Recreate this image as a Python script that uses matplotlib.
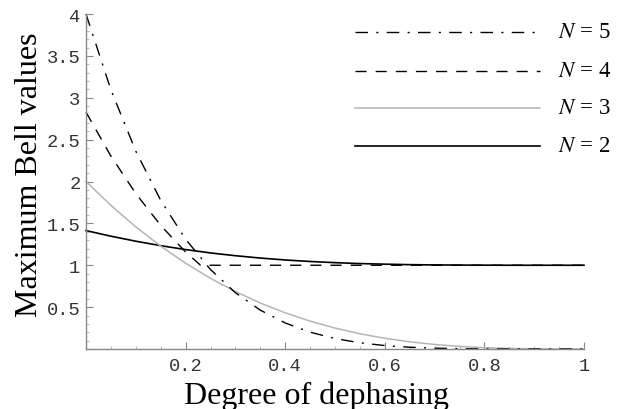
import matplotlib.pyplot as plt
from matplotlib.ticker import MultipleLocator, FuncFormatter

plt.rcParams["mathtext.fontset"] = "stix"

# degree of dephasing (x) and values
dephasing = [0.0, 0.05, 0.1, 0.15, 0.2, 0.25, 0.3, 0.35, 0.4, 0.45, 0.5,
             0.55, 0.6, 0.65, 0.7, 0.75, 0.8, 0.85, 0.9, 0.95, 1.0]

bell_n2 = [1.414, 1.347, 1.287, 1.234, 1.187, 1.147, 1.114, 1.086, 1.063, 1.045, 1.031,
           1.020, 1.013, 1.007, 1.004, 1.002, 1.001, 1.0, 1.0, 1.0, 1.0]
bell_n3 = [2.0, 1.715, 1.458, 1.228, 1.024, 0.844, 0.686, 0.549, 0.432, 0.333, 0.25,
           0.182, 0.128, 0.086, 0.054, 0.031, 0.016, 0.007, 0.002, 0.0, 0.0]
bell_n5 = [4.0, 3.095, 2.362, 1.775, 1.311, 0.949, 0.672, 0.464, 0.311, 0.201, 0.125,
           0.074, 0.041, 0.021, 0.010, 0.004, 0.001, 0.0, 0.0, 0.0, 0.0]

# N=4 has a kink near 0.23, so it gets its own x points
dephasing_n4 = [0.0, 0.05, 0.1, 0.15, 0.2, 0.23, 0.3, 0.4, 0.5, 0.6, 0.7, 0.8, 0.9, 1.0]
bell_n4 = [2.828, 2.304, 1.856, 1.476, 1.158, 1.0, 1.0, 1.0, 1.0, 1.0, 1.0, 1.0, 1.0, 1.0]

labels = ["N = 5", "N = 4", "N = 3", "N = 2"]

fig = plt.figure(figsize=(6.23, 4.10), dpi=100)
ax = fig.add_axes([86 / 623, 60 / 410, 498 / 623, 335 / 410])

styles = {
    "N = 5": dict(color="black", lw=1.0, dashes=(9, 6, 1.5, 6)),
    "N = 4": dict(color="black", lw=1.0, dashes=(8, 6.5)),
    "N = 3": dict(color="#b5b5b5", lw=1.1),
    "N = 2": dict(color="black", lw=1.2),
}

ax.plot(dephasing, bell_n2, clip_on=False, **styles["N = 2"])
ax.plot(dephasing, bell_n3, clip_on=False, **styles["N = 3"])
ax.plot(dephasing_n4, bell_n4, clip_on=False, **styles["N = 4"])
ax.plot(dephasing, bell_n5, clip_on=False, **styles["N = 5"])

ax.set_xlim(0, 1)
ax.set_ylim(0, 4)

# mathematica style axes
for s in ["top", "right"]:
    ax.spines[s].set_visible(False)
for s in ["left", "bottom"]:
    ax.spines[s].set_color("#888888")
    ax.spines[s].set_linewidth(1.0)

ax.xaxis.set_major_locator(MultipleLocator(0.2))
ax.xaxis.set_minor_locator(MultipleLocator(0.05))
ax.yaxis.set_major_locator(MultipleLocator(0.5))
ax.yaxis.set_minor_locator(MultipleLocator(0.1))

def fmt(v, pos):
    if abs(v) < 1e-9:
        return ""
    return f"{v:g}"

ax.xaxis.set_major_formatter(FuncFormatter(fmt))
ax.yaxis.set_major_formatter(FuncFormatter(fmt))

ax.tick_params(which="major", direction="in", length=5, width=0.8, color="#888888",
               labelsize=13.5, labelcolor="#333333")
ax.tick_params(which="minor", direction="in", length=2.5, width=0.6, color="#aaaaaa")
ax.tick_params(axis="x", pad=6)
ax.tick_params(axis="y", pad=4)
for lab in ax.get_xticklabels() + ax.get_yticklabels():
    lab.set_family("Liberation Mono")

fig.text(316 / 623, 1 - 382 / 410, "Degree of dephasing", family="Liberation Serif",
         fontsize=23, ha="center", va="top")
fig.text(30 / 623, 1 - 175 / 410, "Maximum Bell values", family="Liberation Serif",
         fontsize=23, ha="center", va="center", rotation=90)

# legend drawn by hand, pixel positions from the reference
leg_y = [33, 72, 109, 147]
for lab, yy in zip(labels, leg_y):
    yf = 1 - yy / 410
    fig.add_artist(plt.Line2D([355 / 623, 540 / 623], [yf, yf], transform=fig.transFigure,
                              **styles[lab]))
    fig.text(558 / 623, yf, "$N$ = " + lab[-1], family="Liberation Serif", fontsize=16.5,
             ha="left", va="center")

fig.savefig("out.png", dpi=100)
